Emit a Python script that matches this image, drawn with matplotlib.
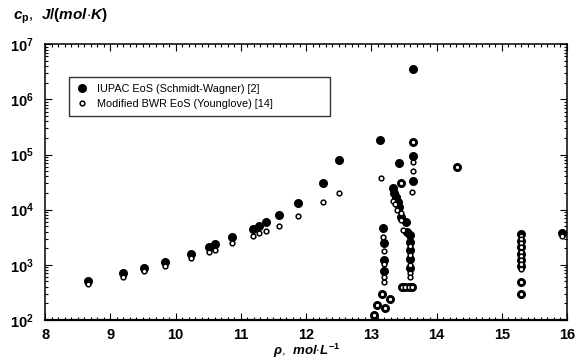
import numpy as np
import matplotlib
matplotlib.use("Agg")
import matplotlib.pyplot as plt
from matplotlib.ticker import LogLocator, MultipleLocator, FixedLocator, NullFormatter

plt.rcParams['font.family'] = ['Liberation Sans', 'DejaVu Sans']
plt.rcParams['mathtext.fontset'] = 'custom'
plt.rcParams['mathtext.rm'] = 'Liberation Sans:bold'
plt.rcParams['mathtext.it'] = 'Liberation Sans:bold:italic'
plt.rcParams['mathtext.bf'] = 'Liberation Sans:bold'

# IUPAC EoS (Schmidt-Wagner) - filled points
iupac_rho = [8.66, 9.20, 9.51, 9.84, 10.23, 10.52, 10.60, 10.86, 11.18, 11.28, 11.38, 11.58, 11.87,
             12.26, 12.51,
             13.14, 13.64, 13.64, 13.64, 13.43, 13.45, 13.64, 13.33, 13.35, 13.38, 13.41, 13.43,
             13.45, 13.53, 13.55, 13.59, 13.59, 13.59, 13.59, 13.59,
             13.47, 13.52, 13.58, 13.62,
             13.18, 13.20, 13.19, 13.19,
             13.16, 13.29, 13.08, 13.21, 13.04,
             14.31,
             15.29, 15.30, 15.30, 15.30, 15.30, 15.30, 15.30, 15.30,
             15.92]
iupac_cp = [513, 724, 890, 1120, 1590, 2140, 2400, 3160, 4470, 5000, 6000, 8000, 13200,
            31000, 78000,
            187000, 3.5e6, 170000, 93000, 69000, 31000, 33000, 25000, 20000, 17000, 13500, 11000,
            7400, 5900, 4000, 3500, 2600, 1860, 1260, 870,
            390, 390, 390, 390,
            4600, 2500, 1230, 780,
            295, 240, 187, 162, 123,
            59000,
            3600, 2700, 2100, 1600, 1230, 950, 480, 300,
            3700]

# Modified BWR EoS (Younglove) - open points
bwr_rho = [8.66, 9.20, 9.51, 9.84, 10.23, 10.52, 10.60, 10.86, 11.18, 11.28, 11.38, 11.58, 11.87,
           12.26, 12.51,
           13.15, 13.64, 13.64, 13.64, 13.45, 13.63, 13.34, 13.37, 13.40, 13.45, 13.46, 13.49,
           13.59, 13.59, 13.59, 13.59, 13.59,
           13.47, 13.52, 13.58, 13.62,
           13.18, 13.19, 13.20, 13.20, 13.20,
           13.16, 13.29, 13.08, 13.21, 13.04,
           14.31,
           15.29, 15.30, 15.30, 15.30, 15.30, 15.30, 15.30, 15.30, 15.30, 15.30, 15.30,
           15.92]
bwr_cp = [447, 600, 770, 960, 1350, 1740, 1860, 2450, 3390, 3800, 4170, 5130, 7760,
          13800, 20000,
          38000, 170000, 74000, 50000, 31000, 20500, 14300, 12500, 10000, 8800, 6400, 4300,
          2200, 1500, 1000, 720, 600,
          390, 390, 390, 390,
          3200, 1800, 1020, 600, 490,
          295, 240, 187, 162, 123,
          59000,
          3400, 3000, 2460, 2100, 1740, 1450, 1230, 1020, 830, 480, 300,
          3400]

x_ticks = [8, 9, 10, 11, 12, 13, 14, 15, 16]
y_ticks = [1e2, 1e3, 1e4, 1e5, 1e6, 1e7]

fig = plt.figure(figsize=(5.78, 3.62), dpi=100)
ax = fig.add_axes([0.078, 0.116, 0.903, 0.762])

ax.plot(iupac_rho, iupac_cp, linestyle='none', marker='o', ms=6.5, mfc='black', mec='black', mew=0,
        label='IUPAC EoS (Schmidt-Wagner) [2]')
ax.plot(bwr_rho, bwr_cp, linestyle='none', marker='o', ms=3.4, mfc='white', mec='black', mew=1.1,
        label='Modified BWR EoS (Younglove) [14]')

ax.set_yscale('log')
ax.set_xlim(8, 16)
ax.set_ylim(1e2, 1e7)

ax.xaxis.set_major_locator(FixedLocator(x_ticks))
ax.xaxis.set_minor_locator(MultipleLocator(0.1))
ax.yaxis.set_major_locator(FixedLocator(y_ticks))
ax.yaxis.set_minor_locator(LogLocator(base=10, subs=np.arange(2, 10)))
ax.yaxis.set_minor_formatter(NullFormatter())
ax.set_xticklabels([str(v) for v in x_ticks])
ax.set_yticklabels([r'$\mathrm{10^{%d}}$' % int(np.log10(v)) for v in y_ticks])

ax.tick_params(which='both', direction='in', top=True, right=True, width=0.8)
ax.tick_params(which='major', length=5, labelsize=10.5, pad=8)
ax.tick_params(axis='x', which='major', pad=6)
ax.tick_params(which='minor', length=2.5)
for lbl in ax.get_xticklabels() + ax.get_yticklabels():
    lbl.set_fontweight('bold')
for s in ax.spines.values():
    s.set_linewidth(1.1)
ax.spines['bottom'].set_linewidth(1.6)

fig.text(0.022, 0.955, r'$c_\mathrm{p}$,  $J/(mol{\cdot}K)$', fontsize=11, ha='left', va='center')
fig.text(0.531, 0.03, r'$\rho$,  $mol{\cdot}L^{-1}$', fontsize=9.5, ha='center', va='center')

leg = ax.legend(loc='upper left', bbox_to_anchor=(0.046, 0.73, 0.5, 0.15), mode='expand',
                borderaxespad=0, frameon=True, fancybox=False, edgecolor='black', fontsize=7.8,
                handletextpad=0.8, borderpad=0.6, labelspacing=0.5, handlelength=1.2)
leg.get_frame().set_linewidth(1.0)

fig.savefig('out.png', dpi=100)
